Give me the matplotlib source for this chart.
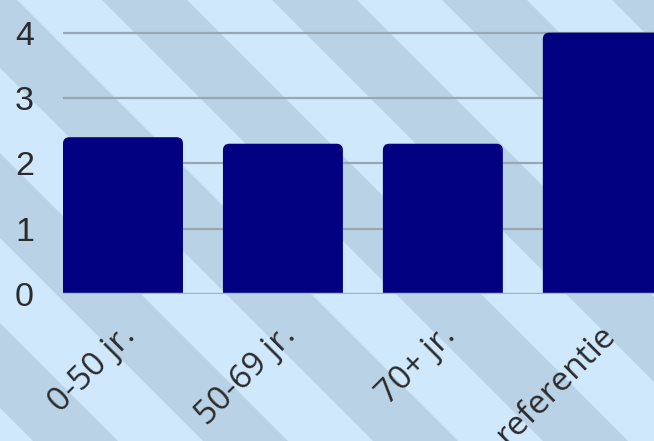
import numpy as np
import matplotlib.pyplot as plt
import matplotlib.transforms as mtransforms
from matplotlib.patches import FancyBboxPatch, Polygon

categories = ['0-50 jr.', '50-69 jr.', '70+ jr.', 'referentie']
values = [2.4, 2.3, 2.3, 4.0]
yticks = [0, 1, 2, 3, 4]

W, H = 654, 441
fig = plt.figure(figsize=(W / 100, H / 100), dpi=100)

# striped background over the whole figure
bg = fig.add_axes([0, 0, 1, 1], zorder=0)
bg.set_xlim(0, W)
bg.set_ylim(H, 0)
bg.axis('off')
bg.add_patch(Polygon([[0, 0], [W, 0], [W, H], [0, H]], closed=True,
                     facecolor='#d0e8fb', edgecolor='none'))
period = 170
half = 85
start = 102 - period * 4
for k in range(12):
    x0 = start + k * period
    bg.add_patch(Polygon([[x0, 0], [x0 + half, 0], [x0 + half + H, H], [x0 + H, H]],
                         closed=True, facecolor='#bad2e6', edgecolor='none'))

ax = fig.add_axes([63 / W, (H - 294) / H, (W - 63) / W, 294 / H], zorder=1)
ax.patch.set_visible(False)
x = np.arange(len(categories))
bw = 0.75
ax.set_xlim(-0.375, 3.32)
ax.set_ylim(0, 4.5)

# rounded top corners: extend below 0 so the lower rounding is clipped
aspect = 160 / 65.25
for xi, v in zip(x, values):
    p = FancyBboxPatch((xi - bw / 2, -0.3), bw, v + 0.3,
                       boxstyle='round,pad=0,rounding_size=0.04',
                       mutation_aspect=aspect,
                       facecolor='#000080', edgecolor='none', zorder=3)
    ax.add_patch(p)

for t in yticks[1:]:
    ax.axhline(t, color='#9aa6b0', lw=1.6, zorder=1)
ax.axhline(0, color='#a2b3c4', lw=2.5, zorder=4)

for s in ax.spines.values():
    s.set_visible(False)
ax.set_yticks(yticks)
ax.set_yticklabels([str(t) for t in yticks], fontsize=24.5, color='#2b2b2b',
                   family='Liberation Sans')
ax.tick_params(axis='y', length=0, pad=21)
ax.set_xticks(x)
ax.set_xticklabels(categories, rotation=45, ha='right', va='center',
                   rotation_mode='anchor', fontsize=24, color='#2b2b2b',
                   family='Open Sans')
ax.tick_params(axis='x', length=0, pad=30)
shift = mtransforms.ScaledTranslation(8 / 100, 5 / 100, fig.dpi_scale_trans)
for lbl in ax.get_xticklabels():
    lbl.set_transform(lbl.get_transform() + shift)

fig.savefig('out.png', dpi=100)
